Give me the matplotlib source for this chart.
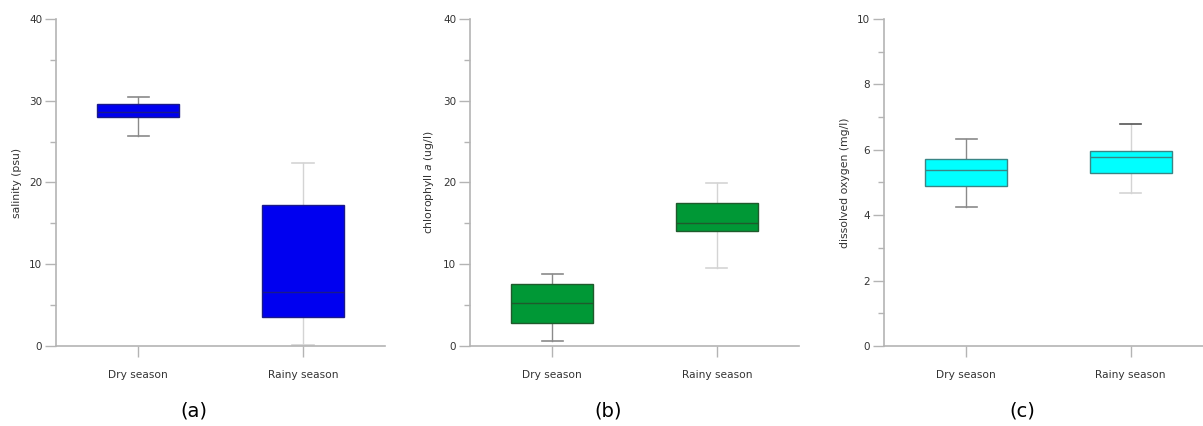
import matplotlib
matplotlib.use('Agg')
import matplotlib.pyplot as plt
from matplotlib.ticker import MultipleLocator

# Categories
seasons = ['Dry season', 'Rainy season']

# (a) salinity (psu)
sal_low = [25.7, 0.1]
sal_q1 = [28.0, 3.5]
sal_med = [28.6, 6.6]
sal_q3 = [29.6, 17.2]
sal_high = [30.4, 22.4]

# (b) chlorophyll a (ug/l)
chl_low = [0.6, 9.6]
chl_q1 = [2.85, 14.1]
chl_med = [5.2, 15.0]
chl_q3 = [7.6, 17.5]
chl_high = [8.85, 19.9]

# (c) dissolved oxygen (mg/l)
do_low = [4.26, 4.67]
do_q1 = [4.89, 5.28]
do_med = [5.38, 5.79]
do_q3 = [5.73, 5.97]
do_high = [6.32, 6.78]

panels = [
    ('(a)', 'salinity (psu)', (sal_low, sal_q1, sal_med, sal_q3, sal_high), 40, 10, 5, '#0000f0', '#1a1a8a'),
    ('(b)', 'chlorophyll $\\it{a}$ (ug/l)', (chl_low, chl_q1, chl_med, chl_q3, chl_high), 40, 10, 5, '#009836', '#1f5a2c'),
    ('(c)', 'dissolved oxygen (mg/l)', (do_low, do_q1, do_med, do_q3, do_high), 10, 2, 1, '#00ffff', '#3a8585'),
]

spine_col = '#b4b4b4'
dark_whisk = ['#8a8a8a', '#d4d4d4']

fig = plt.figure(figsize=(12.03, 4.26), dpi=100)
lefts = [0.0466, 0.3907, 0.7348]

for left, (tag, ylabel, stats, ymax, major, minor, face, edge) in zip(lefts, panels):
    ax = fig.add_axes([left, 0.1878, 0.2735, 0.7676])
    low, q1, med, q3, high = stats
    bstats = []
    for i, name in enumerate(seasons):
        bstats.append({'label': name, 'whislo': low[i], 'q1': q1[i], 'med': med[i],
                       'q3': q3[i], 'whishi': high[i], 'fliers': []})
    res = ax.bxp(bstats, positions=[1, 2], widths=0.5, patch_artist=True, showfliers=False)
    for i, box in enumerate(res['boxes']):
        box.set_facecolor(face)
        box.set_edgecolor(edge)
        box.set_linewidth(1.0)
        box.set_zorder(3)
    for m in res['medians']:
        m.set_color(edge)
        m.set_linewidth(1.0)
        m.set_zorder(4)
    for j, w in enumerate(res['whiskers']):
        w.set_color(dark_whisk[j // 2])
        w.set_linewidth(1.0)
    for j, c in enumerate(res['caps']):
        c.set_color(dark_whisk[j // 2])
        c.set_linewidth(1.2)
        c.set_xdata([1 + j // 2 - 0.065, 1 + j // 2 + 0.065])
    if tag == '(c)':
        res['caps'][3].set_color('#555555')

    ax.set_xlim(0.5, 2.5)
    ax.set_ylim(0, ymax)
    ax.yaxis.set_major_locator(MultipleLocator(major))
    ax.yaxis.set_minor_locator(MultipleLocator(minor))
    for s in ['top', 'right']:
        ax.spines[s].set_visible(False)
    for s in ['left', 'bottom']:
        ax.spines[s].set_color(spine_col)
        ax.spines[s].set_linewidth(1.2)
    ax.tick_params(axis='y', which='major', length=8, width=1.0, color=spine_col,
                   labelsize=7.5, labelcolor='#333333', pad=2)
    ax.tick_params(axis='y', which='minor', length=4, width=1.0, color=spine_col)
    ax.tick_params(axis='x', which='major', length=8, width=1.0, color=spine_col,
                   labelsize=7.7, labelcolor='#333333', pad=9)
    xt = ax.get_xticklines()
    xt[0].set_color('#8a8a8a')
    ax.set_ylabel(ylabel, fontsize=7.8, color='#333333', labelpad=5)
    ax.text(0.42, -0.2, tag, transform=ax.transAxes, ha='center', va='center', fontsize=14)

fig.savefig('out.png', dpi=100)
